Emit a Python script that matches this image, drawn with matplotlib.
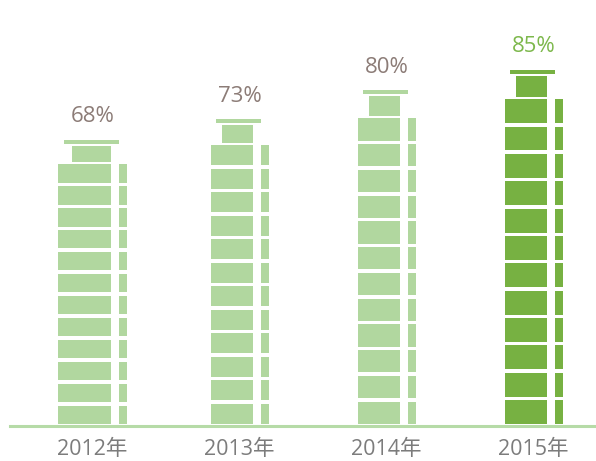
import matplotlib.pyplot as plt

plt.rcParams['font.family'] = ['Open Sans', 'Noto Sans CJK SC', 'DejaVu Sans']

years = ['2012年', '2013年', '2014年', '2015年']
rates = [68, 73, 80, 85]
rate_labels = ['68%', '73%', '80%', '85%']

light = '#b1d79f'
dark = '#77b142'
bar_colors = [light, light, light, dark]
text_colors = ['#8c7c77', '#8c7c77', '#8c7c77', '#7db84c']

# pixel -> data helpers (147 px between buildings, 3.82 px per percent)
px = 1 / 147
py = 1 / 3.82
widths_px = [69, 58, 58, 58]
floors = 12
stripe = 3.5 * py

fig = plt.figure(figsize=(5.96, 4.61), dpi=100)
ax = fig.add_axes([0, 0, 1, 1])
ax.set_xlim(-92.5 * px, (596 - 92.5) * px)
ax.set_ylim(-(461 - 424) * py, 424 * py)
ax.axis('off')

for i, v in enumerate(rates):
    w = widths_px[i] * px
    x0 = i - w / 2
    split = x0 + w - 15.5 * px
    right0 = split + 7.5 * px
    h = (v - (floors - 1) * stripe) / floors
    bottoms = [k * (h + stripe) for k in range(floors)]
    ax.bar([x0] * floors, [h] * floors, width=split - x0, bottom=bottoms,
           align='edge', color=bar_colors[i], linewidth=0)
    ax.bar([right0] * floors, [h] * floors, width=x0 + w - right0, bottom=bottoms,
           align='edge', color=bar_colors[i], linewidth=0)
    # top block
    blk_b = v + 2 * py
    blk_h = 0.9 * h
    blk_l = x0 + 0.2 * w
    ax.bar(blk_l, blk_h, width=split - blk_l, bottom=blk_b, align='edge',
           color=bar_colors[i], linewidth=0)
    # cap
    cap_b = blk_b + blk_h + 2 * py
    cap_w = 0.79 * w
    ax.bar(i - 1 * px, 4 * py, width=cap_w, bottom=cap_b, align='center',
           color=bar_colors[i], linewidth=0)
    ax.text(i, cap_b + 4 * py + 23 * py, rate_labels[i], ha='center', va='center',
            fontsize=16, color=text_colors[i])
    ax.text(i, -25 * py, years[i], ha='center', va='center',
            fontsize=15.5, color='#7c7c7c')

ax.axhline(-1.5 * py, xmin=10 / 596, xmax=1, color='#b6dba7', linewidth=2.2)

fig.savefig('out.png', dpi=100)
